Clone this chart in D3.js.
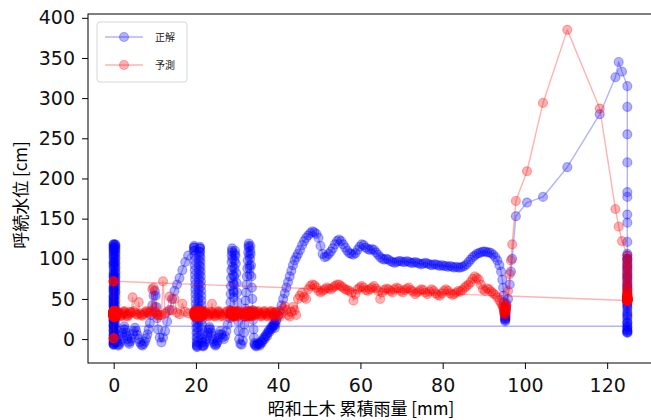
<!DOCTYPE html>
<html>
<head>
<meta charset="utf-8">
<script src="https://cdn.jsdelivr.net/npm/d3@7"></script>
<style>
  body { margin: 0; background: #fff; }
  svg { display: block; }
</style>
</head>
<body>
<svg id="chart" width="651" height="420"></svg>
<script>
// x: 昭和土木 累積雨量 [mm], y: 呼続水位 [cm]  (正解 = observed, 予測 = predicted)

// tide at zero rain
const tide0Rain = [
  0, 0, 0, 0, 0, 0, 0, 0, 0, 0,
  0, 0, 0, 0, 0, 0, 0, 0, 0, 0,
  0, 0, 0, 0, 0, 0, 0, 0, 0, 0,
  0, 0, 0, 0, 0, 0, 0, 0, 0, 0,
  0, 0, 0, 0, 0, 0, 0, 0, 0, 0,
  0, 0, 0, 0, 0, 0, 0, 0, 0, 0,
  0, 0, 0, 0, 0, 0, 0, 0, 0, 0,
  0.4, 0.4, 0.4, 0.4, 0.4, 0.4, 0.4, 0.4, 0.4, 0.4,
  0.4, 0.4, 0.4, 0.4, 0.4, 0.4, 0.4, 0.4, 0.4, 0.4,
  0.4, 0.4, 0.4, 0.4, 0.4, 0.4, 0.4, 0.4, 0.4, 0.4];
const tide0Truth = [
  60, 54, 48, 42, 36, 30, 24, 18, 12, 6,
  1, -4, -7, -6, -2, 4, 10, 16, 22, 28,
  34, 40, 46, 52, 58, 64, 70, 76, 82, 88,
  94, 100, 106, 111, 115, 118, 117, 113, 108, 102,
  96, 90, 84, 78, 72, 66, 60, 54, 48, 42,
  36, 30, 24, 18, 12, 6, 1, -4, -7, -6,
  -2, 4, 10, 16, 22, 28, 34, 40, 46, 52,
  58, 64, 70, 76, 82, 88, 94, 100, 106, 111,
  115, 118, 117, 113, 108, 102, 96, 90, 84, 78,
  72, 66, 60, 54, 48, 42, 36, 30, 24, 18];
const tide0Pred = [
  30, 31, 33, 35, 34, 32, 30, 28, 29, 31,
  33, 35, 34, 32, 30, 28, 29, 31, 33, 35,
  34, 32, 30, 28, 29, 31, 33, 35, 34, 32,
  30, 28, 29, 31, 33, 35, 34, 32, 30, 28,
  29, 31, 33, 35, 34, 32, 30, 28, 29, 31,
  33, 35, 34, 32, 30, 28, 29, 31, 33, 35,
  34, 32, 30, 28, 29, 31, 33, 35, 34, 32,
  30, 28, 29, 31, 33, 35, 34, 32, 30, 28,
  29, 31, 33, 35, 34, 32, 30, 28, 29, 31,
  33, 35, 34, 32, 30, 28, 29, 31, 33, 35];

// first light rain, 0.5 - 11 mm
const early0Rain = [
  0.6, 0.6, 0.6, 0.8, 1.0, 1.2, 1.4, 1.6, 1.8, 2.0,
  2.2, 2.4, 2.6, 2.8, 3.0, 3.2, 3.4, 3.6, 3.8, 4.0,
  4.3, 4.6, 4.9, 5.2, 5.5, 5.8, 6.1, 6.4, 6.7, 7.0,
  7.3, 7.6, 7.9, 8.2, 8.5, 8.8, 9.1, 9.4, 9.7, 10.0,
  10.2, 10.4, 10.6, 10.8, 11.2];
const early0Truth = [
  12, 6, 0, -4, -7, -8, -6, -3, 0, 4,
  8, 12, 16, 12, 8, 4, 0, -4, -6, -3,
  1, 6, 10, 14, 10, 5, 0, -4, -7, -8,
  -6, -3, 1, 6, 12, 20, 30, 42, 54, 60,
  54, 40, 26, 12, 2];
const early0Pred = [
  29, 28, 30, 32, 34, 33, 31, 29, 28, 30,
  32, 34, 35, 33, 31, 29, 28, 30, 32, 34,
  33, 52, 35, 33, 31, 30, 46, 32, 30, 29,
  31, 33, 35, 34, 32, 33, 35, 62, 64, 40,
  34, 32, 30, 29, 30];

const climbRain = [11.6, 12.0, 12.5, 13.0, 13.6, 14.2, 14.8, 15.4, 16.0, 16.7, 17.4, 18.1];
const climbTruth = [-4, 2, 10, 22, 36, 50, 60, 68, 76, 86, 96, 104];
const climbPred = [30, 72, 32, 34, 53, 36, 50, 33, 31, 44, 34, 32];

// tide around 20 mm
const tide20Rain = [
  19.5, 19.53, 19.56, 19.59, 19.62, 19.65, 19.68, 19.71, 19.74, 19.77,
  19.8, 19.83, 19.86, 19.89, 19.92, 19.95, 19.98, 20.01, 20.04, 20.07,
  20.1, 20.13, 20.16, 20.19, 20.22, 20.25, 20.28, 20.31, 20.34, 20.37,
  20.4, 20.43, 20.46, 20.49, 20.52, 20.55, 20.58, 20.61, 20.64, 20.67,
  20.7, 20.73, 20.76, 20.79, 20.82, 20.85, 20.88, 20.91, 20.94, 20.97,
  21.0, 21.03, 21.06, 21.09, 21.12, 21.15, 21.18, 21.21, 21.24, 21.27,
  21.3, 21.33, 21.36, 21.39, 21.42, 21.45, 21.48, 21.51, 21.54, 21.57,
  21.6, 21.63];
const tide20Truth = [
  110, 114, 116, 114, 110, 104, 98, 92, 86, 80,
  74, 68, 62, 56, 50, 44, 38, 32, 26, 20,
  14, 8, 2, -3, -7, -9, -10, -8, -4, 2,
  8, 14, 20, 26, 32, 38, 44, 50, 56, 62,
  68, 74, 80, 86, 92, 98, 104, 109, 113, 115,
  113, 108, 102, 96, 90, 84, 78, 72, 66, 60,
  54, 48, 42, 36, 30, 24, 18, 12, 6, 0,
  -4, -8];
const tide20Pred = [
  34, 33, 31, 29, 28, 30, 32, 34, 35, 33,
  31, 29, 28, 30, 32, 34, 35, 33, 31, 29,
  28, 30, 32, 34, 35, 33, 31, 29, 28, 30,
  32, 34, 35, 33, 31, 29, 28, 30, 32, 34,
  35, 33, 31, 29, 28, 30, 32, 34, 35, 33,
  31, 29, 28, 30, 32, 34, 35, 33, 31, 29,
  28, 30, 32, 34, 35, 33, 31, 29, 28, 30,
  32, 34];

const low24Rain = [
  21.7, 21.9, 22.1, 22.3, 22.5, 22.7, 22.9, 23.1, 23.3, 23.5,
  23.7, 23.9, 24.1, 24.3, 24.5, 24.7, 24.9, 25.1, 25.3, 25.5,
  25.7, 25.9, 26.2, 26.5, 26.8, 27.1, 27.4, 27.7];
const low24Truth = [
  -9, -8, -6, -3, 0, 4, 8, 12, 15, 12,
  8, 4, 0, -3, -6, -8, -7, -5, -2, 2,
  6, 10, 6, 2, 0, 4, 10, 18];
const low24Pred = [
  30, 32, 34, 35, 33, 31, 29, 28, 30, 32,
  34, 44, 33, 31, 29, 28, 30, 32, 34, 35,
  33, 31, 29, 28, 30, 32, 34, 35];

// double tide column near 30 mm
const tide30Rain = [
  28.3, 28.35, 28.4, 28.45, 28.5, 28.55, 28.6, 28.65, 28.7, 28.75,
  28.8, 28.85, 28.9, 28.95, 29.0, 29.05, 29.1, 29.15, 29.2, 29.25,
  29.3, 29.35, 29.4, 29.45, 29.5, 29.6, 29.7, 29.8, 29.9, 30.0,
  30.1, 30.2, 30.3, 30.4, 30.5, 30.8, 31.1, 31.4, 31.7, 31.8,
  31.9, 32.0, 32.1, 32.2, 32.3, 32.4, 32.5, 32.6, 32.7, 32.8,
  32.85, 32.9, 32.95, 33.0, 33.05, 33.1, 33.15, 33.2, 33.25, 33.3,
  33.4, 33.5, 33.6, 33.7, 33.8, 33.9, 34.0, 34.1, 34.2, 34.3];
const tide30Truth = [
  26, 36, 46, 56, 66, 76, 86, 96, 104, 110,
  113, 108, 100, 90, 80, 70, 60, 52, 58, 68,
  78, 88, 98, 106, 110, 104, 94, 82, 70, 58,
  46, 34, 22, 10, 0, -6, -7, -2, 8, 18,
  28, 38, 48, 58, 68, 78, 88, 98, 108, 116,
  119, 114, 104, 92, 80, 88, 100, 110, 116, 106,
  92, 78, 64, 50, 36, 24, 12, 2, -5, -7];
const tide30Pred = [
  30, 32, 34, 35, 33, 31, 29, 28, 30, 32,
  34, 35, 33, 31, 29, 28, 30, 32, 34, 35,
  33, 31, 29, 28, 30, 32, 34, 35, 33, 31,
  29, 28, 30, 32, 34, 35, 33, 31, 29, 28,
  30, 32, 34, 35, 33, 31, 29, 28, 30, 32,
  34, 35, 33, 31, 29, 28, 30, 32, 34, 35,
  33, 31, 29, 28, 30, 32, 34, 35, 33, 31];

const low36Rain = [
  34.5, 34.7, 34.9, 35.1, 35.3, 35.5, 35.7, 35.9, 36.1, 36.3,
  36.5, 36.7, 36.9, 37.1, 37.3, 37.5, 37.7, 37.9, 38.1, 38.3,
  38.5, 38.7, 38.85, 39.0, 39.1, 39.2, 39.3, 39.4];
const low36Truth = [
  -8, -9, -7, -5, -6, -8, -6, -3, -4, -1,
  2, 0, 3, 6, 4, 8, 11, 9, 12, 15,
  13, 16, 19, 17, 20, 14, 18, 22];
const low36Pred = [
  30, 32, 34, 35, 33, 31, 29, 28, 30, 32,
  34, 35, 33, 31, 29, 28, 30, 32, 34, 35,
  33, 31, 29, 28, 30, 32, 34, 33];

// first rise, 40 - 95 mm
const flood1Rain = [
  39.6, 40.0, 40.4, 40.8, 41.2, 41.6, 42.0, 42.4, 42.8, 43.2,
  43.6, 44.0, 44.4, 44.8, 45.3, 45.8, 46.3, 46.8, 47.3, 47.8,
  48.3, 48.8, 49.3, 49.8, 50.3, 50.8, 51.3, 51.8, 52.3, 52.8,
  53.3, 53.8, 54.3, 54.8, 55.3, 55.8, 56.3, 56.8, 57.3, 57.8,
  58.3, 58.8, 59.3, 59.8, 60.3, 60.8, 61.3, 61.8, 62.3, 62.8,
  63.3, 63.8, 64.3, 64.8, 65.3, 65.8, 66.3, 66.8, 67.3, 67.8,
  68.3, 68.8, 69.3, 69.8, 70.3, 70.8, 71.3, 71.8, 72.3, 72.8,
  73.3, 73.8, 74.3, 74.8, 75.3, 75.8, 76.3, 76.8, 77.3, 77.8,
  78.3, 78.8, 79.3, 79.8, 80.3, 80.8, 81.3, 81.8, 82.3, 82.8,
  83.3, 83.8, 84.3, 84.8, 85.3, 85.8, 86.3, 86.8, 87.3, 87.8,
  88.3, 88.8, 89.3, 89.8, 90.3, 90.8, 91.3, 91.8, 92.3, 92.8,
  93.3, 93.8, 94.2, 94.5];
const flood1Truth = [
  24, 29, 35, 42, 50, 57, 64, 71, 78, 85,
  92, 98, 102, 106, 111, 117, 122, 126, 129, 132,
  134, 133, 131, 126, 116, 106, 102, 103, 106, 109,
  113, 118, 122, 124, 122, 118, 114, 110, 107, 106,
  105, 107, 111, 115, 118, 117, 114, 112, 111, 112,
  111, 108, 105, 102, 100, 99, 100, 99, 97, 96,
  95, 96, 97, 97, 96, 96, 97, 96, 95, 95,
  96, 95, 94, 93, 94, 95, 94, 93, 92, 93,
  93, 92, 91, 92, 91, 91, 90, 91, 90, 89,
  90, 89, 89, 90, 91, 93, 96, 99, 102, 104,
  106, 107, 108, 109, 109, 108, 108, 107, 105, 102,
  98, 92, 84, 74];
const flood1Pred = [
  33, 30, 28, 32, 38, 41, 36, 30, 28, 34,
  40, 36, 30, 50, 54, 58, 52, 50, 62, 66,
  68, 67, 64, 60, 58, 60, 62, 64, 63, 62,
  64, 66, 68, 68, 66, 64, 62, 61, 60, 58,
  48, 56, 62, 64, 66, 64, 61, 60, 62, 64,
  66, 63, 60, 50, 58, 61, 63, 62, 60, 58,
  62, 64, 63, 60, 58, 61, 63, 64, 61, 59,
  56, 58, 60, 62, 61, 58, 56, 59, 62, 60,
  57, 55, 54, 57, 60, 62, 60, 57, 55, 56,
  58, 60, 59, 61, 64, 66, 68, 71, 75, 78,
  76, 74, 68, 62, 60, 63, 62, 59, 57, 55,
  52, 48, 45, 42];

const trough95Rain = [94.7, 94.8, 94.9, 95.0, 95.0, 95.1, 95.1, 95.2, 95.2, 95.2, 95.3, 95.3, 95.3, 95.4, 95.4, 95.5];
const trough95Truth = [64, 54, 46, 40, 34, 30, 26, 24, 22, 24, 26, 28, 30, 34, 38, 44];
const trough95Pred = [40, 38, 36, 34, 32, 31, 30, 32, 34, 36, 38, 40, 42, 40, 38, 42];

// second rise, 95 - 124 mm
const flood2Rain = [95.9, 96.3, 96.6, 96.9, 97.8, 100.5, 104.4, 110.3, 118.2, 122.0, 122.8, 123.6];
const flood2Truth = [50, 68, 84, 100, 153, 170, 177, 214, 280, 326, 345, 333];
const flood2Pred = [60, 81, 98, 118, 172, 209, 294, 385, 287, 162, 140, 122];

// recession after the rain stops (125 mm)
const recessRain = [
  124.9, 124.9, 124.9, 124.9, 124.9, 124.9, 124.9, 124.9, 124.9, 124.9,
  124.9, 124.9, 124.9, 124.9, 124.9, 124.9, 124.9, 124.9, 124.9, 124.9,
  124.9, 124.9, 124.9, 124.9, 124.9, 124.9, 124.9, 124.9, 124.9, 124.9,
  124.9, 124.9, 124.9, 124.9, 124.9, 124.9, 124.9, 124.9, 124.9, 124.9,
  124.9, 124.9, 124.9, 124.9, 124.9, 124.9, 124.9, 124.9, 124.9, 124.9,
  124.9, 124.9, 124.9, 124.9, 124.9, 124.9];
const recessTruth = [
  315, 289, 255, 220, 183, 177, 155, 145, 121, 106,
  100, 94, 88, 82, 76, 70, 64, 58, 52, 46,
  40, 34, 28, 22, 16, 11, 8, 9, 14, 20,
  26, 32, 38, 44, 50, 56, 62, 68, 74, 80,
  86, 92, 98, 104, 100, 90, 78, 66, 54, 42,
  30, 20, 12, 8, 10, 16];
const recessPred = [
  104, 100, 96, 92, 88, 84, 80, 76, 72, 68,
  64, 62, 60, 58, 56, 55, 54, 53, 52, 51,
  50, 50, 49, 49, 48, 48, 48, 49, 50, 51,
  52, 53, 52, 51, 50, 50, 49, 49, 48, 48,
  49, 50, 51, 52, 51, 50, 49, 48, 48, 49,
  50, 50, 49, 48, 48, 48];

// next event starts again at 0 mm
const nextRain = [0, 0, 0, 0, 0, 0, 0, 0, 0, 0, 0, 0, 0, 0, 0, 0];
const nextTruth = [16, 24, 36, 50, 64, 78, 92, 104, 114, 118, 110, 96, 80, 62, 44, 26];
const nextPred = [72, 72, 72, 72, 34, 32, 30, 29, 31, 33, 30, 28, 1, 1, 1, 1];

const xTicks = [0, 20, 40, 60, 80, 100, 120];
const yTicks = [0, 50, 100, 150, 200, 250, 300, 350, 400];
const seriesNames = ['正解', '予測'];
const seriesColors = ['#0000ff', '#ff0000'];

const rain = [].concat(tide0Rain, early0Rain, climbRain, tide20Rain, low24Rain, tide30Rain,
  low36Rain, flood1Rain, trough95Rain, flood2Rain, recessRain, nextRain);
const truth = [].concat(tide0Truth, early0Truth, climbTruth, tide20Truth, low24Truth, tide30Truth,
  low36Truth, flood1Truth, trough95Truth, flood2Truth, recessTruth, nextTruth);
const pred = [].concat(tide0Pred, early0Pred, climbPred, tide20Pred, low24Pred, tide30Pred,
  low36Pred, flood1Pred, trough95Pred, flood2Pred, recessPred, nextPred);

const svg = d3.select('#chart');
const plotLeft = 88, plotRight = 653, plotTop = 14, plotBottom = 363;

// matplotlib style 5% margins
const xExt = d3.extent(rain);
const yExt = d3.extent(truth.concat(pred));
const xPad = (xExt[1] - xExt[0]) * 0.05;
const yPad = (yExt[1] - yExt[0]) * 0.05;

const x = d3.scaleLinear().domain([xExt[0] - xPad, xExt[1] + xPad]).range([plotLeft, plotRight]);
const y = d3.scaleLinear().domain([yExt[0] - yPad, yExt[1] + yPad]).range([plotBottom, plotTop]);

svg.append('defs').append('clipPath').attr('id', 'plotclip')
  .append('rect')
  .attr('x', plotLeft).attr('y', plotTop)
  .attr('width', plotRight - plotLeft).attr('height', plotBottom - plotTop);

const plot = svg.append('g').attr('clip-path', 'url(#plotclip)');

const line = d3.line()
  .x(d => x(d.rain))
  .y(d => y(d.level));

function drawSeries(values, color)
{
  const pts = rain.map((r, i) => ({ rain: r, level: values[i] }));

  plot.append('path')
    .datum(pts)
    .attr('fill', 'none')
    .attr('stroke', color)
    .attr('stroke-opacity', 0.3)
    .attr('stroke-width', 1.4)
    .attr('stroke-linejoin', 'round')
    .attr('d', line);

  plot.append('g')
    .selectAll('circle')
    .data(pts)
    .enter().append('circle')
    .attr('cx', d => x(d.rain))
    .attr('cy', d => y(d.level))
    .attr('r', 4.5)
    .attr('fill', color)
    .attr('fill-opacity', 0.3)
    .attr('stroke', color)
    .attr('stroke-opacity', 0.3)
    .attr('stroke-width', 1.2);
}

drawSeries(truth, seriesColors[0]);
drawSeries(pred, seriesColors[1]);

// axes
const xAxis = svg.append('g')
  .attr('transform', `translate(0,${plotBottom})`)
  .call(d3.axisBottom(x).tickValues(xTicks).tickSize(6).tickPadding(10));

const yAxis = svg.append('g')
  .attr('transform', `translate(${plotLeft},0)`)
  .call(d3.axisLeft(y).tickValues(yTicks).tickSize(6).tickPadding(7));

[xAxis, yAxis].forEach(a => {
  a.select('.domain').remove();
  a.selectAll('line').attr('stroke', '#000').attr('stroke-width', 1);
  a.selectAll('text')
    .attr('fill', '#111')
    .style('font-family', '"DejaVu Sans", sans-serif')
    .style('font-size', '19px');
});

svg.append('rect')
  .attr('x', plotLeft).attr('y', plotTop)
  .attr('width', plotRight - plotLeft).attr('height', plotBottom - plotTop)
  .attr('fill', 'none')
  .attr('stroke', '#000')
  .attr('stroke-width', 1);

svg.append('text')
  .attr('x', 361)
  .attr('y', 415)
  .attr('text-anchor', 'middle')
  .style('font-family', '"Noto Sans CJK JP", sans-serif')
  .style('font-size', '17px')
  .attr('fill', '#000')
  .text('昭和土木 累積雨量 [mm]');

svg.append('text')
  .attr('transform', 'translate(27,195) rotate(-90)')
  .attr('text-anchor', 'middle')
  .style('font-family', '"Noto Sans CJK JP", sans-serif')
  .style('font-size', '17px')
  .attr('fill', '#000')
  .text('呼続水位 [cm]');

// legend
const legend = svg.append('g');
legend.append('rect')
  .attr('x', 97).attr('y', 22)
  .attr('width', 90).attr('height', 60)
  .attr('rx', 3)
  .attr('fill', '#fff')
  .attr('fill-opacity', 0.8)
  .attr('stroke', '#d6d6d6')
  .attr('stroke-width', 1);

seriesNames.forEach((name, i) => {
  const ly = 37 + i * 28;
  legend.append('line')
    .attr('x1', 105).attr('x2', 143)
    .attr('y1', ly).attr('y2', ly)
    .attr('stroke', seriesColors[i])
    .attr('stroke-opacity', 0.3)
    .attr('stroke-width', 1.4);
  legend.append('circle')
    .attr('cx', 124).attr('cy', ly).attr('r', 4.5)
    .attr('fill', seriesColors[i]).attr('fill-opacity', 0.3)
    .attr('stroke', seriesColors[i]).attr('stroke-opacity', 0.3)
    .attr('stroke-width', 1.2);
  legend.append('text')
    .attr('x', 155).attr('y', ly + 3.5)
    .style('font-family', '"Noto Sans CJK JP", sans-serif')
    .style('font-size', '10px')
    .attr('fill', '#222')
    .text(name);
});
</script>
</body>
</html>
